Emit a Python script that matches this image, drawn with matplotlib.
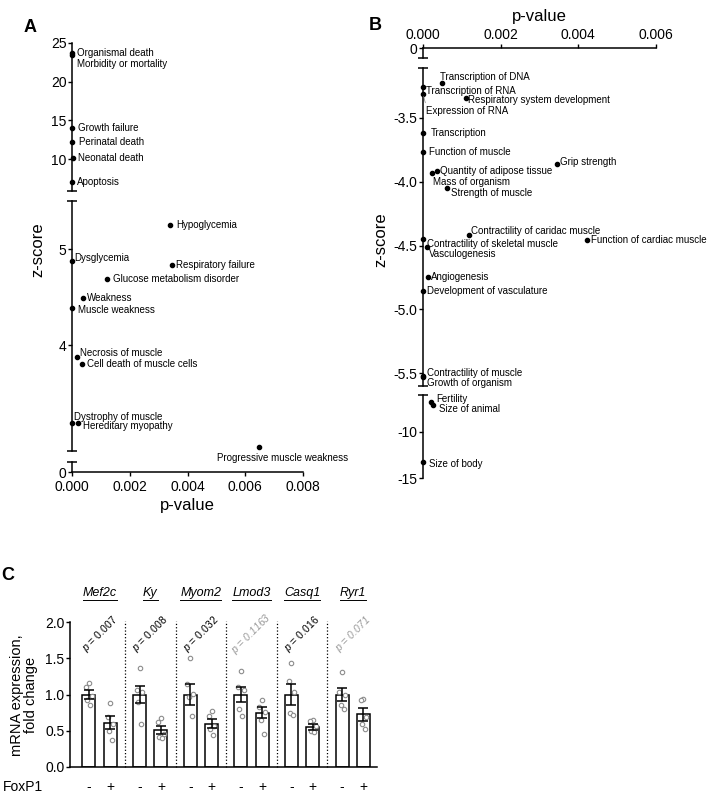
import numpy as np
import matplotlib
matplotlib.use('Agg')
import matplotlib.pyplot as plt
from matplotlib.lines import Line2D

plt.rcParams['font.family'] = ['Liberation Sans', 'DejaVu Sans']
plt.rcParams['mathtext.fontset'] = 'custom'
plt.rcParams['mathtext.it'] = 'Liberation Sans:italic'
plt.rcParams['mathtext.rm'] = 'Liberation Sans'
plt.rcParams['axes.unicode_minus'] = False

# ---- panel A: upregulated functions ----
a_terms = ['Organismal death', 'Morbidity or mortality', 'Growth failure', 'Perinatal death',
           'Neonatal death', 'Apoptosis', 'Hypoglycemia', 'Dysglycemia', 'Respiratory failure',
           'Glucose metabolism disorder', 'Weakness', 'Muscle weakness', 'Necrosis of muscle',
           'Cell death of muscle cells', 'Dystrophy of muscle', 'Hereditary myopathy',
           'Progressive muscle weakness']
a_pvals = [0.0, 0.0, 0.0, 0.00001, 0.00005, 0.0, 0.00339, 0.0, 0.00346,
           0.00121, 0.00038, 0.0, 0.00018, 0.00036, 0.0, 0.0002, 0.00648]
a_zscores = [23.75, 23.5, 14.0, 12.2, 10.1, 7.05, 5.25, 4.875, 4.83,
             4.69, 4.49, 4.385, 3.875, 3.80, 3.19, 3.19, 2.94]

# ---- panel B: downregulated functions ----
b_terms = ['Transcription of DNA', 'Transcription of RNA', 'Expression of RNA',
           'Respiratory system development', 'Transcription', 'Function of muscle',
           'Grip strength', 'Quantity of adipose tissue', 'Mass of organism',
           'Strength of muscle', 'Contractility of caridac muscle', 'Function of cardiac muscle',
           'Contractility of skeletal muscle', 'Vasculogenesis', 'Angiogenesis',
           'Development of vasculature', 'Contractility of muscle', 'Growth of organism',
           'Fertility', 'Size of animal', 'Size of body']
b_pvals = [0.00049, 0.0, 0.0, 0.0011, 0.0, 0.0, 0.00345, 0.00036, 0.00024, 0.00062,
           0.00118, 0.00422, 0.0, 0.0001, 0.00013, 0.0, 0.0, 0.0, 0.0002, 0.00026, 0.0]
b_zscores = [-3.23, -3.26, -3.31, -3.345, -3.62, -3.77, -3.86, -3.92, -3.93, -4.05,
             -4.42, -4.46, -4.45, -4.51, -4.75, -4.86, -5.52, -5.53, -6.74, -7.07, -13.3]

# ---- panel C: qPCR ----
c_genes = ['Mef2c', 'Ky', 'Myom2', 'Lmod3', 'Casq1', 'Ryr1']
c_pvals = ['0.007', '0.008', '0.032', '0.1163', '0.016', '0.071']
c_signif = [True, True, True, False, True, False]
c_ctrl_mean = [1.0, 1.0, 1.0, 1.0, 1.0, 1.0]
c_ctrl_sem = [0.06, 0.12, 0.14, 0.11, 0.14, 0.09]
c_foxp1_mean = [0.61, 0.51, 0.60, 0.75, 0.55, 0.73]
c_foxp1_sem = [0.09, 0.06, 0.06, 0.08, 0.04, 0.09]
c_ctrl_points = [[1.16, 1.10, 0.98, 0.92, 0.85],
                 [1.37, 1.06, 1.03, 0.90, 0.60],
                 [1.51, 1.15, 1.01, 0.96, 0.70],
                 [1.32, 1.10, 1.06, 0.80, 0.70],
                 [1.43, 1.18, 1.03, 0.74, 0.72],
                 [1.31, 1.03, 0.99, 0.85, 0.80]]
c_foxp1_points = [[0.88, 0.69, 0.60, 0.50, 0.37],
                  [0.67, 0.62, 0.45, 0.42, 0.40],
                  [0.77, 0.71, 0.57, 0.53, 0.44],
                  [0.93, 0.83, 0.76, 0.65, 0.46],
                  [0.65, 0.64, 0.57, 0.50, 0.48],
                  [0.94, 0.92, 0.69, 0.60, 0.53]]

# label offsets (pixels, right/up)
a_offsets = [(5, 0), (5, -9), (6, 0), (7, 0), (5, 0), (5, 0), (6, 0), (2, 3), (4, 0),
             (6, 0), (4, 0), (6, -2), (3, 4), (5, 0), (2, 6), (5, -3), (-43, -11)]
b_offsets = [(-2, 6), (3, -4), (3, -17), (2, -2), (8, 0), (6, 0), (3, 2), (3, 0), (1, -9),
             (4, -5), (2, 4), (4, 0), (4, -5), (2, -7), (3, 0), (4, 0), (4, 3), (4, -6),
             (5, 3), (6, -4), (6, -2)]

W, H = 709, 796
fig = plt.figure(figsize=(W / 100, H / 100), dpi=100)


def add_ax(x0, y0, x1, y1):
    return fig.add_axes([x0 / W, 1 - y1 / H, (x1 - x0) / W, (y1 - y0) / H])


def style(ax, show_bottom=False, show_top=False):
    for s in ['top', 'right', 'bottom']:
        ax.spines[s].set_visible(False)
    ax.spines['left'].set_linewidth(1.1)
    ax.patch.set_alpha(0)
    if show_bottom:
        ax.spines['bottom'].set_visible(True)
        ax.spines['bottom'].set_linewidth(1.1)
    if show_top:
        ax.spines['top'].set_visible(True)
        ax.spines['top'].set_linewidth(1.1)
    ax.tick_params(axis='y', length=3, width=1, labelsize=10, pad=1)
    if not (show_bottom or show_top):
        ax.set_xticks([])


def cap(ax, where):
    ax.plot([0], [where], transform=ax.transAxes, marker='_', ms=7, mew=1.1,
            color='k', clip_on=False)


def place_points(axes, pvals, zs, terms, offsets, xlim):
    for ax in axes:
        lo, hi = ax.get_ylim()
        ax.set_xlim(*xlim)
        for p, z, t, (dx, dy) in zip(pvals, zs, terms, offsets):
            if lo <= z <= hi:
                ax.plot(p, z, 'o', color='k', ms=3, clip_on=False)
                ha = 'center' if dx < -20 else 'left'
                ddx = dx + 43 + 23 if dx < -20 else dx
                kw = {}
                if t == 'Expression of RNA':
                    kw['arrowprops'] = dict(arrowstyle='-', color='0.5', lw=0.5,
                                            shrinkA=0, shrinkB=2, relpos=(0, 1))
                ax.annotate(t, (p, z), xytext=(ddx * 0.72, dy * 0.72),
                            textcoords='offset points', ha=ha, va='center',
                            fontsize=7, **kw)


# ================= Panel A =================
a_top = add_ax(72, 43, 303, 191)
a_mid = add_ax(72, 201, 303, 451)
a_bot = add_ax(72, 462, 303, 472)
a_top.set_ylim(5.9, 25)
a_top.set_yticks([10, 15, 20, 25])
a_mid.set_ylim(2.9, 5.5)
a_mid.set_yticks([4, 5])
a_bot.set_ylim(0, 0.4)
a_bot.set_yticks([0])
for ax in (a_top, a_mid):
    style(ax)
style(a_bot, show_bottom=True)
a_bot.set_xticks([0, 0.002, 0.004, 0.006, 0.008])
a_bot.set_xticklabels(['0.000', '0.002', '0.004', '0.006', '0.008'])
a_bot.tick_params(axis='x', length=3, width=1, labelsize=10, pad=2.5)
a_bot.set_xlabel('p-value', fontsize=12, labelpad=3)
cap(a_top, 0)
cap(a_mid, 1)
cap(a_mid, 0)
cap(a_bot, 1)
place_points([a_top, a_mid, a_bot], a_pvals, a_zscores, a_terms, a_offsets, (0, 0.008))
fig.text(38 / W, 1 - 250 / H, 'z-score', rotation=90, fontsize=12, ha='center', va='center')
fig.text(30 / W, 1 - 27 / H, 'A', fontsize=13, weight='bold', ha='center', va='center')

# ================= Panel B =================
b_top = add_ax(423, 48, 656, 58)
b_mid = add_ax(423, 68, 656, 386)
b_bot = add_ax(423, 395, 656, 478)
b_top.set_ylim(-0.5, 0)
b_top.set_yticks([0])
b_mid.set_ylim(-5.6, -3.11)
b_mid.set_yticks([-3.5, -4.0, -4.5, -5.0, -5.5])
b_mid.set_yticklabels(['-3.5', '-4.0', '-4.5', '-5.0', '-5.5'])
b_bot.set_ylim(-15, -6)
b_bot.set_yticks([-10, -15])
style(b_top, show_top=True)
style(b_mid)
style(b_bot)
b_top.xaxis.set_ticks_position('top')
b_top.xaxis.set_label_position('top')
b_top.set_xticks([0, 0.002, 0.004, 0.006])
b_top.set_xticklabels(['0.000', '0.002', '0.004', '0.006'])
b_top.tick_params(axis='x', length=3, width=1, labelsize=10, pad=1)
b_top.set_xlabel('p-value', fontsize=12, labelpad=5)
cap(b_top, 0)
cap(b_mid, 1)
cap(b_mid, 0)
cap(b_bot, 1)
place_points([b_top, b_mid, b_bot], b_pvals, b_zscores, b_terms, b_offsets, (0, 0.006))
fig.text(381 / W, 1 - 240 / H, 'z-score', rotation=90, fontsize=12, ha='center', va='center')
fig.text(375 / W, 1 - 25 / H, 'B', fontsize=13, weight='bold', ha='center', va='center')

# ================= Panel C =================
axc = add_ax(70, 622, 377, 767)
step = 2.375
pos_ctrl = np.arange(len(c_genes)) * step
pos_fox = pos_ctrl + 1
bw = 0.61
axc.bar(pos_ctrl, c_ctrl_mean, width=bw, color='white', edgecolor='k', lw=1.1, zorder=2)
axc.bar(pos_fox, c_foxp1_mean, width=bw, color='white', edgecolor='k', lw=1.1, zorder=2)
axc.errorbar(pos_ctrl, c_ctrl_mean, yerr=c_ctrl_sem, fmt='none', ecolor='k', elinewidth=1.1,
             capsize=3.5, capthick=1.1, zorder=4)
axc.errorbar(pos_fox, c_foxp1_mean, yerr=c_foxp1_sem, fmt='none', ecolor='k', elinewidth=1.1,
             capsize=3.5, capthick=1.1, zorder=4)
jit = np.array([0.0, -0.13, 0.13, -0.07, 0.07])
for i in range(len(c_genes)):
    axc.plot(pos_ctrl[i] + jit, c_ctrl_points[i], 'o', mfc='white', mec='0.55', ms=3.2,
             mew=0.8, zorder=3, clip_on=False)
    axc.plot(pos_fox[i] + jit, c_foxp1_points[i], 'o', mfc='white', mec='0.55', ms=3.2,
             mew=0.8, zorder=3, clip_on=False)
for i in range(len(c_genes) - 1):
    xm = (pos_fox[i] + pos_ctrl[i + 1]) / 2
    axc.plot([xm, xm], [0, 2.02], ls=':', color='k', lw=0.9, clip_on=False)
axc.set_xlim(-0.89, pos_fox[-1] + 0.64)
axc.set_ylim(0, 2.0)
axc.set_yticks([0, 0.5, 1.0, 1.5, 2.0])
axc.set_yticklabels(['0.0', '0.5', '1.0', '1.5', '2.0'])
axc.set_xticks([])
for s in ['top', 'right']:
    axc.spines[s].set_visible(False)
for s in ['left', 'bottom']:
    axc.spines[s].set_linewidth(1.1)
axc.tick_params(axis='y', length=3, width=1, labelsize=10, pad=1)

gene_texts = []
for i, g in enumerate(c_genes):
    xc = (pos_ctrl[i] + pos_fox[i]) / 2
    t = axc.text(xc, 2.40, g, style='italic', fontsize=9, ha='center', va='center',
                 clip_on=False)
    gene_texts.append(t)
    col = 'k' if c_signif[i] else '0.6'
    axc.text(xc, 1.83, '$p$ = ' + c_pvals[i], rotation=45, fontsize=7.5, color=col,
             ha='center', va='center', clip_on=False,
             style='normal' if c_signif[i] else 'italic')
    axc.text(pos_ctrl[i], -0.28, '-', fontsize=10, ha='center', va='center', clip_on=False)
    axc.text(pos_fox[i], -0.28, '+', fontsize=10, ha='center', va='center', clip_on=False)

fig.text(3 / W, 1 - 787 / H, 'FoxP1', fontsize=10, ha='left', va='center')
fig.text(24 / W, 1 - 695 / H, 'mRNA expression,\nfold change', rotation=90, fontsize=10.5,
         ha='center', va='center', multialignment='center', linespacing=1.0)
fig.text(8 / W, 1 - 575 / H, 'C', fontsize=13, weight='bold', ha='center', va='center')

# underline gene names
fig.canvas.draw()
r = fig.canvas.get_renderer()
for t in gene_texts:
    bb = t.get_window_extent(renderer=r)
    y = bb.y0 - 1
    fig.add_artist(Line2D([bb.x0 / W, bb.x1 / W], [y / H, y / H], color='k', lw=0.7,
                          transform=fig.transFigure))

fig.savefig('out.png', dpi=100)
